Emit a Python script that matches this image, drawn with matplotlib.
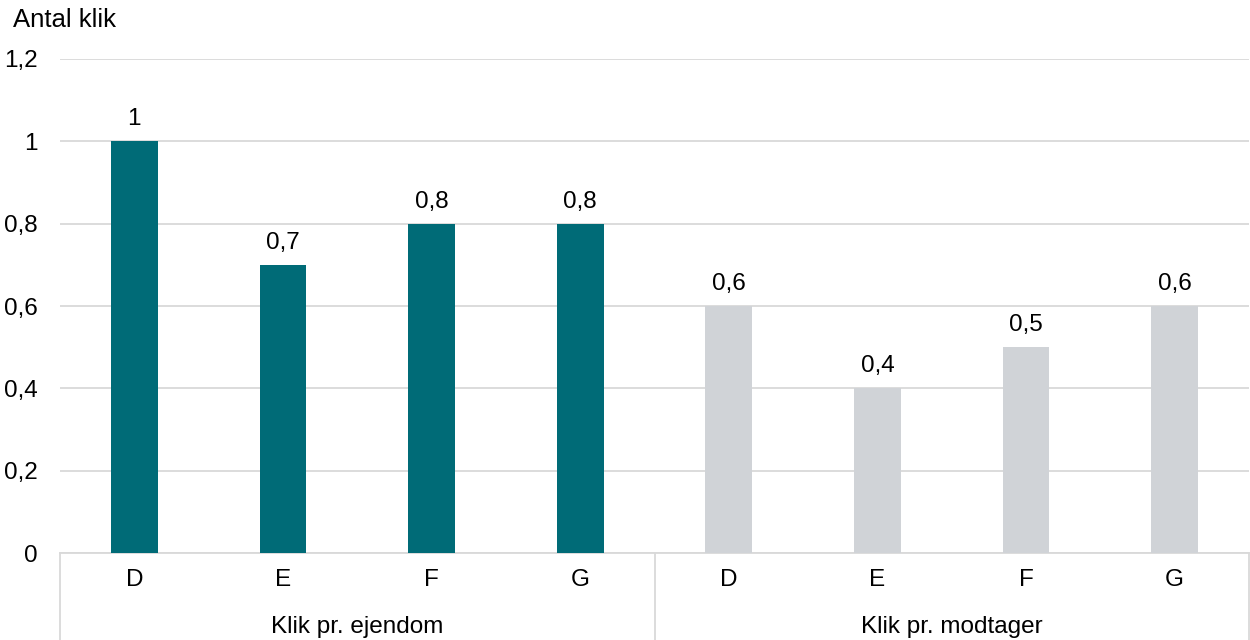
import matplotlib
matplotlib.use("Agg")
import matplotlib.pyplot as plt
import matplotlib.transforms as mtransforms

plt.rcParams['font.family'] = ['Liberation Sans', 'DejaVu Sans']

groups = ["Klik pr. ejendom", "Klik pr. modtager"]
categories = ["D", "E", "F", "G"]
values_ejendom = [1.0, 0.7, 0.8, 0.8]
values_modtager = [0.6, 0.4, 0.5, 0.6]
labels_ejendom = ["1", "0,7", "0,8", "0,8"]
labels_modtager = ["0,6", "0,4", "0,5", "0,6"]
yticks = [0, 0.2, 0.4, 0.6, 0.8, 1.0, 1.2]
ytick_labels = ["0", "0,2", "0,4", "0,6", "0,8", "1", "1,2"]

teal = "#006B77"
grey = "#D0D3D7"
gridc = "#D9D9D9"
fs = 17.5

fig = plt.figure(figsize=(12.5, 6.4), dpi=100)
ax = fig.add_axes([60/1250, 1-553/640, 1189/1250, (553-59)/640])

n = len(categories)
x1 = list(range(n))
x2 = [n + i for i in range(n)]
w = 0.315
ax.bar(x1, values_ejendom, width=w, color=teal, zorder=3)
ax.bar(x2, values_modtager, width=w, color=grey, zorder=3)

for xs, vs, ls in [(x1, values_ejendom, labels_ejendom), (x2, values_modtager, labels_modtager)]:
    for x, v, l in zip(xs, vs, ls):
        ax.annotate(l, (x, v), xytext=(0, 8), textcoords="offset points",
                    ha="center", va="bottom", fontsize=fs, color="black")

ax.set_xlim(-0.5, 2*n - 0.5)
ax.set_ylim(0, 1.2)
ax.set_yticks(yticks)
ax.set_yticklabels(ytick_labels, fontsize=fs)
ax.yaxis.grid(True, color=gridc, linewidth=1.3, zorder=0)
ax.tick_params(axis="y", length=0, pad=16)
ax.tick_params(axis="x", length=0)
ax.set_xticks([])
for s in ["top", "right", "left"]:
    ax.spines[s].set_visible(False)
ax.spines["bottom"].set_color(gridc)
ax.spines["bottom"].set_linewidth(1.3)

trans = mtransforms.blended_transform_factory(ax.transData, fig.transFigure)
for xs in [x1, x2]:
    for x, c in zip(xs, categories):
        ax.text(x, 1-580/640, c, transform=trans, ha="center", va="center", fontsize=fs)
for gi, g in enumerate(groups):
    ax.text(gi*n + (n-1)/2, 1-627/640, g, transform=trans, ha="center", va="center", fontsize=fs)

for xb in [-0.5, n - 0.5, 2*n - 0.5]:
    ax.plot([xb, xb], [1-553/640, 0], transform=trans, color=gridc, linewidth=1.3, clip_on=False)

fig.text(13/1250, 1-20/640, "Antal klik", fontsize=18.5, ha="left", va="center")

fig.savefig("out.png", dpi=100)
